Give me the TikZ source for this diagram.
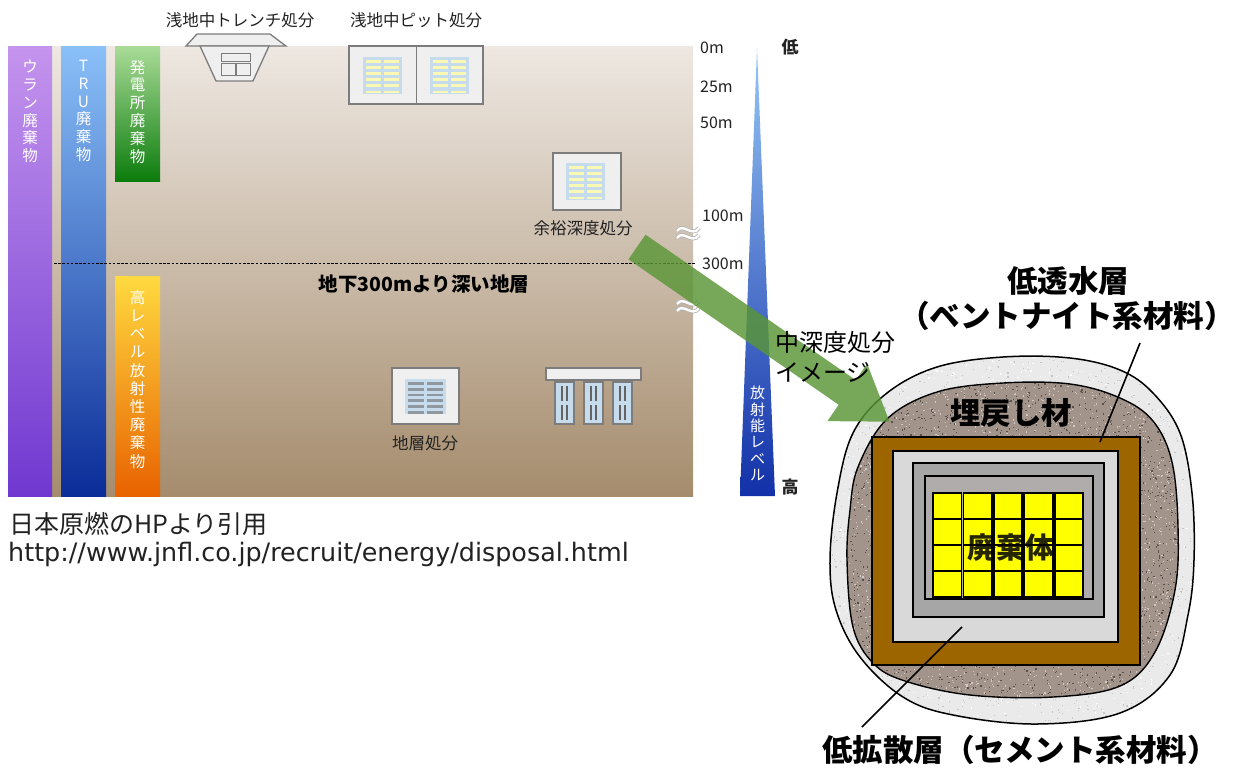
\documentclass[tikz,border=0pt]{standalone}
\usepackage{fontspec}
\setmainfont{Noto Sans CJK JP}
\newfontfamily\urlfont{DejaVu Sans}
\usetikzlibrary{arrows.meta,calc}

\definecolor{groundtop}{HTML}{EEE8E2}
\definecolor{groundmid}{HTML}{D3C5B5}
\definecolor{groundbot}{HTML}{A58C6D}
\definecolor{panelblue}{HTML}{C6DCEC}
\definecolor{barpaleyellow}{HTML}{FBF8B4}
\definecolor{bargrey}{HTML}{8F989E}
\definecolor{boxgrey}{HTML}{EFEFEF}
\definecolor{edgegrey}{HTML}{7C7C7C}
\definecolor{arrowgreen}{HTML}{5A9636}
\definecolor{bentonite}{HTML}{9C6500}
\definecolor{cementlight}{HTML}{D9D9D9}
\definecolor{cementmid}{HTML}{A6A6A6}
\definecolor{cementin}{HTML}{B0ACAC}
\definecolor{wasteyellow}{HTML}{FFFF00}
\definecolor{outerfill}{HTML}{EAEAEA}
\definecolor{innerfill}{HTML}{A2948A}
\definecolor{inkgrey}{HTML}{222222}

\tikzset{
  barlabel/.style={text=white, align=center, inner sep=0pt,
    font=\fontsize{15.5}{17.8}\selectfont},
  smalllabel/.style={text=inkgrey, inner sep=0pt, font=\fontsize{16.5}{18}\selectfont},
  depthlabel/.style={text=inkgrey, inner sep=0pt, anchor=west, font=\fontsize{16}{18}\selectfont},
  biglabel/.style={text=black, inner sep=0pt, font=\bfseries\fontsize{30.5}{34}\selectfont},
  iconbox/.style={fill=boxgrey, draw=edgegrey, line width=1.3pt},
  layer/.style={draw=black, line width=1.4pt},
  leader/.style={draw=black, line width=1.6pt},
  breakmark/.style={draw=gray!60, double=white, double distance=2.4pt, line width=0.8pt}
}

% storage panel with two columns of six bars
\newcommand\binpanel[5]{%
  \fill[panelblue] (#1,#2) rectangle ++(#3,#4);
  \foreach \r in {0,...,5}{
    \fill[#5] (#1+3,#2+3.2+\r*#4/6.1) rectangle ++(#3/2-4.5,#4/12.5);
    \fill[#5] (#1+#3/2+1.5,#2+3.2+\r*#4/6.1) rectangle ++(#3/2-4.5,#4/12.5);
  }
}

% scatter of small grains inside a box: colour, count, x0, y0, width, height
\newcommand\grains[6]{%
  \foreach \i in {1,...,#2}{
    \fill[#1] (#3+#5*rnd, #4+#6*rnd) rectangle ++(1.2,1.2);
  }
}

\begin{document}
\begin{tikzpicture}[x=1pt,y=-1pt]
\useasboundingbox (0,0) rectangle (1239,772);
\fill[white] (0,0) rectangle (1239,772);

% ---------- ground section ----------
\shade[top color=groundtop, middle color=groundmid, bottom color=groundbot]
  (8,46) rectangle (693,496);

% waste category bars
\shade[top color={rgb,255:red,196;green,148;blue,238}, bottom color={rgb,255:red,112;green,56;blue,208}]
  (8,46) rectangle (52,496);
\shade[top color={rgb,255:red,138;green,192;blue,248}, bottom color={rgb,255:red,10;green,44;blue,152}]
  (61,46) rectangle (106,496);
\shade[top color={rgb,255:red,170;green,220;blue,152}, bottom color={rgb,255:red,12;green,124;blue,12}]
  (115,46) rectangle (160,181);
\shade[top color={rgb,255:red,255;green,218;blue,64}, bottom color={rgb,255:red,232;green,98;blue,0}]
  (115,276) rectangle (160,496);

\node[barlabel, anchor=north] (uran) at (30,60) {ウ\\ラ\\ン\\廃\\棄\\物};
\node[barlabel, anchor=north] (tru) at (83.5,60) {T\\R\\U\\廃\\棄\\物};
\node[barlabel, anchor=north] (plant) at (137.5,60) {発\\電\\所\\廃\\棄\\物};
\node[barlabel, anchor=north, font=\fontsize{15.5}{18.2}\selectfont] (hlw) at (137.5,290)
  {高\\レ\\ベ\\ル\\放\\射\\性\\廃\\棄\\物};

% 300 m boundary
\draw[black, line width=0.9pt, dash pattern=on 2.6pt off 1.6pt] (54,263) -- (695,263);
\node[text=black, inner sep=0pt, font=\bfseries\fontsize{19.5}{21}\selectfont] (deep) at (424,284)
  {地下300mより深い地層};

% shallow trench
\draw[iconbox] (197,34) -- (270,34) -- (286,46) -- (186,46) -- cycle;
\draw[iconbox] (200,46) -- (269,46) -- (253,81) -- (216,81) -- cycle;
\draw[fill=boxgrey, draw=edgegrey, line width=1pt] (221,53) rectangle (250,61);
\draw[fill=boxgrey, draw=edgegrey, line width=1pt] (221,63) rectangle (235,75);
\draw[fill=boxgrey, draw=edgegrey, line width=1pt] (236,63) rectangle (250,75);
\node[smalllabel] (trench) at (240,20) {浅地中トレンチ処分};

% shallow pit
\draw[iconbox] (349,46) rectangle (483,104);
\draw[edgegrey, line width=1.3pt] (416.5,46) -- (416.5,104);
\binpanel{363}{57}{39}{37}{barpaleyellow}
\binpanel{430}{57}{39}{37}{barpaleyellow}
\node[smalllabel] (pit) at (416,20) {浅地中ピット処分};

% intermediate depth
\draw[iconbox] (553,153) rectangle (621,210);
\binpanel{566}{163}{39}{37}{barpaleyellow}
\node[smalllabel] (inter) at (583,228) {余裕深度処分};

% geological disposal
\draw[iconbox] (392,368) rectangle (459,424);
\binpanel{405}{379}{41}{35}{bargrey}
\node[smalllabel] (geo) at (425,443) {地層処分};
\draw[iconbox] (546,368) rectangle (641,380);
\foreach \cx in {555,584,613}{
  \draw[fill=panelblue, draw=edgegrey, line width=1.2pt] (\cx,382) rectangle ++(19,42);
  \draw[edgegrey!80!black, line width=1.1pt]
    (\cx+7,386) -- (\cx+7,401) (\cx+12,386) -- (\cx+12,401)
    (\cx+7,405) -- (\cx+7,420) (\cx+12,405) -- (\cx+12,420);
}

% depth scale
\node[depthlabel] (d0) at (700,48) {0m};
\node[depthlabel] (d25) at (700,87) {25m};
\node[depthlabel] (d50) at (700,123) {50m};
\node[depthlabel] (d100) at (702,216) {100m};
\node[depthlabel] (d300) at (702,264) {300m};
\draw[breakmark] (677,231) .. controls (683,222) and (692,238) .. (699,228);
\draw[breakmark] (677,238) .. controls (683,229) and (692,245) .. (699,235);
\draw[breakmark] (677,304) .. controls (683,295) and (692,311) .. (699,301);
\draw[breakmark] (677,311) .. controls (683,302) and (692,318) .. (699,308);

% radioactivity level wedge
\shade[top color={rgb,255:red,150;green,198;blue,245}, middle color={rgb,255:red,60;green,130;blue,220},
  bottom color={rgb,255:red,18;green,48;blue,168}]
  (757,48) -- (775,496) -- (740,496) -- cycle;
\node[barlabel, anchor=north, font=\fontsize{15}{16.3}\selectfont] (level) at (757.5,386) {放\\射\\能\\レ\\ベ\\ル};
\node[text=inkgrey, inner sep=0pt, font=\bfseries\fontsize{17}{18}\selectfont] (low) at (790,47) {低};
\node[text=inkgrey, inner sep=0pt, font=\bfseries\fontsize{17}{18}\selectfont] (high) at (790,487) {高};

% source note
\node[anchor=west, text=inkgrey, inner sep=0pt, font=\fontsize{25}{27}\selectfont] (src) at (9,524) {日本原燃のHPより引用};
\node[anchor=west, text=inkgrey, inner sep=0pt, font=\urlfont\fontsize{25.4}{27}\selectfont] (url) at (8,554)
  {http://www.jnfl.co.jp/recruit/energy/disposal.html};

% ---------- cross-section of the intermediate depth facility ----------
\def\outerblob{plot[smooth cycle, tension=0.6] coordinates {
  (830,560) (837,493) (853,433) (887,393) (937,367) (1003,357) (1070,358) (1120,370)
  (1153,393) (1180,433) (1192,493) (1194,560) (1188,615) (1170,675) (1120,713)
  (1037,724) (953,715) (903,697) (860,657) (836,610)}}
\def\innerblob{plot[smooth cycle, tension=0.6] coordinates {
  (847,560) (850,510) (858,467) (887,419) (937,392) (1003,383) (1070,384) (1120,398)
  (1153,421) (1172,462) (1178,527) (1175,590) (1155,652) (1120,686) (1053,697)
  (970,695) (905,681) (873,663) (853,627)}}

\pgfmathsetseed{7}
\begin{scope}
  \clip \outerblob;
  \fill[outerfill] (820,350) rectangle (1200,730);
  \grains{gray!45}{1600}{830}{355}{365}{372}
  \grains{white}{1300}{830}{355}{365}{372}
\end{scope}
\draw[black, line width=1.5pt] \outerblob;

\begin{scope}
  \clip \innerblob;
  \fill[innerfill] (840,375) rectangle (1185,705);
  \grains{black!45!innerfill}{2600}{845}{380}{335}{320}
  \grains{white!50!innerfill}{2200}{845}{380}{335}{320}
\end{scope}
\draw[black, line width=1.4pt] \innerblob;

% barrier layers
\draw[layer, fill=bentonite] (872,437) rectangle (1140,665);
\draw[layer, fill=cementlight] (893,451) rectangle (1118,642);
\draw[layer, fill=cementmid] (913,463) rectangle (1104,617);
\draw[layer, fill=cementin] (925,476) rectangle (1093,599);
\foreach \c in {0,...,4}{
  \foreach \r in {0,...,3}{
    \draw[black, line width=1.2pt, fill=wasteyellow] (933+\c*30.4,493+\r*26) rectangle ++(28.5,26);
  }
  \draw[black, line width=1.8pt] (933+\c*30.4,493) rectangle ++(28.5,104);
}
\node[text=black, opacity=0.85, inner sep=0pt, font=\bfseries\fontsize{29}{32}\selectfont] (waste) at (1011,548) {廃棄体};
\node[biglabel] (backfill) at (1011,413) {埋戻し材};

% labels and leaders
\node[biglabel] (lowperm) at (1068,281) {低透水層};
\node[biglabel] (lowperm2) at (1067,316) {（ベントナイト系材料）};
\node[biglabel] (lowdiff) at (1020,750) {低拡散層（セメント系材料）};
\coordinate (bentlead) at (1140,343);
\coordinate (bentpt) at (1100,442);
\coordinate (cemlead) at (862,727);
\coordinate (cempt) at (962,627);
\draw[leader] (bentlead) -- (bentpt);
\draw[leader] (cemlead) -- (cempt);

% pointer from the intermediate depth site to the cross-section
\coordinate (arrtail) at (637,247);
\coordinate (arrtip) at (890,422);
\begin{scope}[transparency group, opacity=0.82]
  \draw[arrowgreen, line width=30pt, -{Triangle[length=52pt, width=66pt]}] (arrtail) -- (arrtip);
\end{scope}
\node[anchor=west, text=black, align=left, inner sep=0pt, font=\fontsize{24}{30}\selectfont] (image) at (775,357)
  {中深度処分\\イメージ};

\end{tikzpicture}
\end{document}
